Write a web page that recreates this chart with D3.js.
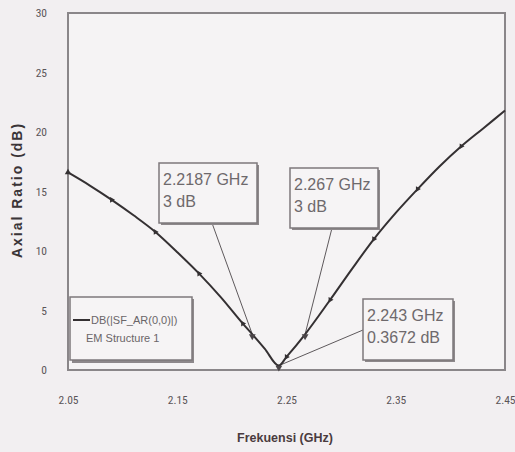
<!DOCTYPE html>
<html>
<head>
<meta charset="utf-8">
<script src="https://cdn.jsdelivr.net/npm/d3@7"></script>
<style>
  body { margin: 0; background: #f2eff1; }
  svg { display: block; }
  .tick text { font-family: "Liberation Sans Narrow", "Roboto Condensed", "Liberation Sans", sans-serif; }
</style>
</head>
<body>
<div id="chart"></div>
<script>
// Axial ratio curve
const freqs = [2.05, 2.07, 2.09, 2.11, 2.13, 2.15, 2.17, 2.19, 2.21, 2.2187, 2.23, 2.243, 2.25, 2.267, 2.29, 2.31, 2.33, 2.35, 2.37, 2.39, 2.41, 2.43, 2.45];
const axialRatio = [16.6, 15.5, 14.3, 13.0, 11.6, 9.9, 8.1, 6.1, 3.9, 3.0, 1.8, 0.37, 1.1, 3.0, 5.9, 8.5, 11.0, 13.2, 15.2, 17.1, 18.8, 20.3, 21.8];
// frequencies that carry a small marker on the trace
const markerFreqs = [2.09, 2.13, 2.17, 2.21, 2.25, 2.29, 2.33, 2.37, 2.41];
const xTicks = [2.05, 2.15, 2.25, 2.35, 2.45];
const yTicks = [0, 5, 10, 15, 20, 25, 30];

// marker annotations
const notes = [
  { f: 2.2187, v: 3, lines: ["2.2187 GHz", "3 dB"], box: [159, 163, 98, 60], anchor: [212, 223] },
  { f: 2.267, v: 3, lines: ["2.267 GHz", "3 dB"], box: [290, 168, 88, 60], anchor: [332, 228] },
  { f: 2.243, v: 0.3672, lines: ["2.243 GHz", "0.3672 dB"], box: [363, 299, 90, 61], anchor: [363, 330] }
];

const W = 515, H = 452;
const svg = d3.select("#chart").append("svg").attr("width", W).attr("height", H);

const x = d3.scaleLinear().domain([2.05, 2.45]).range([68, 505]);
const y = d3.scaleLinear().domain([0, 30]).range([370, 13]);

// plot frame
svg.append("rect")
  .attr("x", x(2.05)).attr("y", y(30))
  .attr("width", x(2.45) - x(2.05)).attr("height", y(0) - y(30))
  .attr("fill", "#f5f3f4").attr("stroke", "#8a8689").attr("stroke-width", 2);

// axes (labels only)
const yAxis = svg.append("g").attr("transform", `translate(${x(2.05)},0)`)
  .call(d3.axisLeft(y).tickValues(yTicks).tickSize(0).tickPadding(21).tickFormat(d3.format("d")));
const xAxis = svg.append("g").attr("transform", `translate(0,${y(0)})`)
  .call(d3.axisBottom(x).tickValues(xTicks).tickSize(0).tickPadding(26).tickFormat(d3.format(".2f")));
[yAxis, xAxis].forEach(g => {
  g.select(".domain").remove();
  g.selectAll("text").attr("fill", "#5b5558").style("font-size", "11.5px");
});

// axis titles
svg.append("text")
  .attr("transform", `translate(22,190) rotate(-90)`)
  .attr("text-anchor", "middle")
  .attr("font-family", "Liberation Sans, sans-serif")
  .attr("font-weight", "bold").attr("font-size", 14)
  .attr("letter-spacing", 2)
  .attr("fill", "#3a3437")
  .text("Axial Ratio (dB)");

svg.append("text")
  .attr("x", 285).attr("y", 442)
  .attr("text-anchor", "middle")
  .attr("font-family", "Liberation Sans Narrow, Liberation Sans, sans-serif")
  .attr("font-weight", "bold").attr("font-size", 12.5)
  .attr("fill", "#4a3b3e")
  .text("Frekuensi (GHz)");

// curve
const data = freqs.map((f, i) => ({ f, v: axialRatio[i] }));
const line = d3.line().x(d => x(d.f)).y(d => y(d.v)).curve(d3.curveMonotoneX);

// annotation leader lines
svg.selectAll(".leader").data(notes).enter().append("line")
  .attr("class", "leader")
  .attr("x1", d => d.anchor[0]).attr("y1", d => d.anchor[1])
  .attr("x2", d => x(d.f)).attr("y2", d => y(d.v))
  .attr("stroke", "#5e595c").attr("stroke-width", 1);

svg.append("path").datum(data)
  .attr("d", line)
  .attr("fill", "none").attr("stroke", "#343032").attr("stroke-width", 2);

// trace markers (interpolated on the drawn curve)
const interp = f => {
  const i = d3.bisectLeft(freqs, f);
  if (freqs[i] === f) return axialRatio[i];
  const t = (f - freqs[i - 1]) / (freqs[i] - freqs[i - 1]);
  return axialRatio[i - 1] + t * (axialRatio[i] - axialRatio[i - 1]);
};
svg.selectAll(".mk").data(markerFreqs).enter().append("path")
  .attr("class", "mk")
  .attr("d", d3.symbol().type(d3.symbolTriangle).size(14))
  .attr("transform", d => `translate(${x(d)},${y(interp(d))}) rotate(90)`)
  .attr("fill", "#343032");
svg.append("path")
  .attr("d", d3.symbol().type(d3.symbolTriangle).size(18))
  .attr("transform", `translate(${x(2.05)},${y(axialRatio[0])})`)
  .attr("fill", "#343032");

// note markers
svg.selectAll(".nm").data(notes).enter().append("path")
  .attr("class", "nm")
  .attr("d", d3.symbol().type(d3.symbolTriangle).size(20))
  .attr("transform", d => `translate(${x(d.f)},${y(d.v) + 2}) rotate(180)`)
  .attr("fill", "#4a4548");

// note boxes
const boxes = svg.selectAll(".note").data(notes).enter().append("g").attr("class", "note");
boxes.append("rect")
  .attr("x", d => d.box[0] + 2).attr("y", d => d.box[1] + 2)
  .attr("width", d => d.box[2]).attr("height", d => d.box[3])
  .attr("fill", "#8d888b");
boxes.append("rect")
  .attr("x", d => d.box[0]).attr("y", d => d.box[1])
  .attr("width", d => d.box[2]).attr("height", d => d.box[3])
  .attr("fill", "#f6f4f5").attr("stroke", "#7d787b").attr("stroke-width", 1.5);
boxes.each(function(d) {
  const g = d3.select(this);
  d.lines.forEach((t, i) => {
    g.append("text")
      .attr("x", d.box[0] + 4).attr("y", d.box[1] + 22 + i * 22)
      .attr("font-family", "Liberation Sans Narrow, Liberation Sans, sans-serif")
      .attr("font-size", 16)
      .attr("fill", "#6e696c")
      .text(t);
  });
});

// legend
const lg = svg.append("g");
lg.append("rect").attr("x", 72).attr("y", 299).attr("width", 122).attr("height", 64)
  .attr("fill", "#8d888b");
lg.append("rect").attr("x", 70).attr("y", 297).attr("width", 122).attr("height", 63)
  .attr("fill", "#f6f4f5").attr("stroke", "#7d787b").attr("stroke-width", 1.5);
lg.append("line").attr("x1", 73).attr("x2", 90).attr("y1", 320).attr("y2", 320)
  .attr("stroke", "#343032").attr("stroke-width", 2);
lg.append("text").attr("x", 91).attr("y", 324)
  .attr("font-family", "Liberation Sans Narrow, Liberation Sans, sans-serif")
  .attr("font-size", 11).attr("fill", "#6a6568")
  .text("DB(|SF_AR(0,0)|)");
lg.append("text").attr("x", 86).attr("y", 342)
  .attr("font-family", "Liberation Sans Narrow, Liberation Sans, sans-serif")
  .attr("font-size", 11).attr("fill", "#6a6568")
  .text("EM Structure 1");
</script>
</body>
</html>
